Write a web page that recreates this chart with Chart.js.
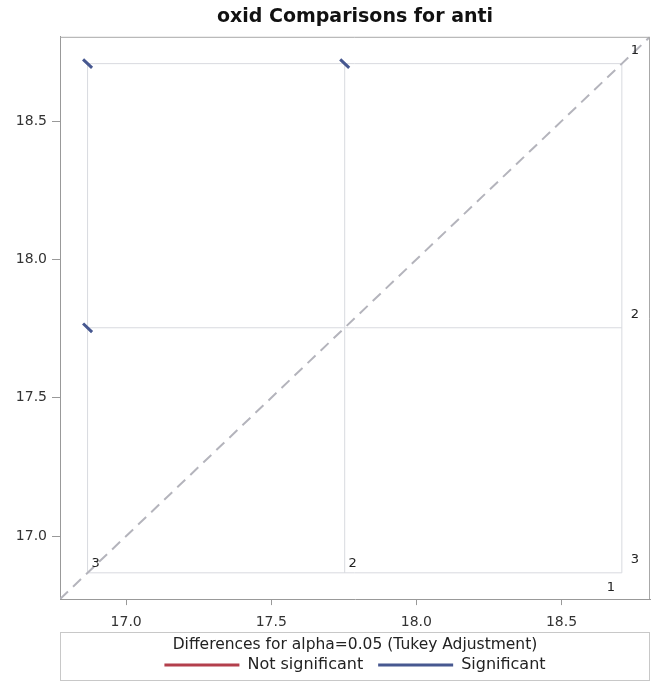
<!DOCTYPE html>
<html>
<head>
<meta charset="utf-8">
<script src="https://cdn.jsdelivr.net/npm/chart.js@4/dist/chart.umd.min.js"></script>
<style>
  html, body { margin: 0; padding: 0; background: #fff; }
  #wrap { width: 654px; height: 692px; }
</style>
</head>
<body>
<div id="wrap"><canvas id="diffChart"></canvas></div>
<script>
// LS-means of oxid for each level of anti
const groups = ['1', '2', '3'];
const lsMeans = [18.708, 17.753, 16.867];

// pairwise Tukey comparisons
const pairFirst = ['1', '1', '2'];
const pairSecond = ['2', '3', '3'];
const diffHalfWidth = [0.031, 0.031, 0.031];
const pairSignificant = [true, true, true];

const axisMin = 16.772;
const axisMax = 18.805;
const xTicks = [17.0, 17.5, 18.0, 18.5];
const yTicks = [17.0, 17.5, 18.0, 18.5];

const legendNames = ['Not significant', 'Significant'];
const colNotSig = '#b33f4c';
const colSig = '#475890';

const meanOf = g => lsMeans[groups.indexOf(g)];
const lo = Math.min(...lsMeans);
const hi = Math.max(...lsMeans);

// grid of reference lines through every mean
const refLines = [];
lsMeans.forEach(m => {
  refLines.push({ x: m, y: lo }, { x: m, y: hi }, { x: null, y: null });
  refLines.push({ x: lo, y: m }, { x: hi, y: m }, { x: null, y: null });
});

// one short -45 degree segment per comparison, centred on (lower mean, higher mean)
function segments(wantSig) {
  const pts = [];
  pairFirst.forEach((g, i) => {
    if (pairSignificant[i] !== wantSig) return;
    const a = meanOf(g), b = meanOf(pairSecond[i]);
    const cx = Math.min(a, b), cy = Math.max(a, b);
    const d = diffHalfWidth[i] / 2;
    pts.push({ x: cx - d, y: cy + d }, { x: cx + d, y: cy - d }, { x: null, y: null });
  });
  return pts;
}

const font = 'DejaVu Sans';

// group labels at the ends of the reference lines
const groupLabels = {
  id: 'groupLabels',
  afterDatasetsDraw(chart) {
    const { ctx, scales: { x, y } } = chart;
    ctx.save();
    ctx.font = '13px "' + font + '"';
    ctx.fillStyle = '#222';
    ctx.textAlign = 'center';
    ctx.textBaseline = 'middle';
    groups.forEach((g, i) => {
      const m = lsMeans[i];
      // right side, one per horizontal line
      ctx.fillText(g, x.getPixelForValue(hi) + 13, y.getPixelForValue(m) - 13);
      // bottom, one per vertical line (largest mean drops below to clear the right label)
      if (m === hi) {
        ctx.fillText(g, x.getPixelForValue(m) - 11, y.getPixelForValue(lo) + 15);
      } else {
        ctx.fillText(g, x.getPixelForValue(m) + 8, y.getPixelForValue(lo) - 9);
      }
    });
    ctx.restore();
  }
};

// frame round the plot and box round the legend
const frames = {
  id: 'frames',
  afterDraw(chart) {
    const { ctx, chartArea: a, legend } = chart;
    ctx.save();
    ctx.strokeStyle = '#a8a8a8';
    ctx.lineWidth = 1;
    ctx.beginPath();
    ctx.moveTo(a.left, a.top + 0.5);
    ctx.lineTo(a.right - 0.5, a.top + 0.5);
    ctx.lineTo(a.right - 0.5, a.bottom);
    ctx.stroke();
    ctx.strokeStyle = '#c8c8c8';
    const top = Math.round(legend.top + 2) + 0.5;
    const bottom = Math.round(legend.bottom - 3) + 0.5;
    ctx.strokeRect(a.left + 0.5, top, a.right - a.left - 1, bottom - top);
    ctx.restore();
  }
};

const ctx = document.getElementById('diffChart').getContext('2d');
new Chart(ctx, {
  type: 'scatter',
  data: {
    datasets: [
      {
        label: 'Significant',
        data: segments(true),
        showLine: true,
        borderColor: colSig,
        backgroundColor: colSig,
        borderWidth: 3,
        pointRadius: 0,
        order: 0
      },
      {
        label: 'Not significant',
        data: segments(false),
        showLine: true,
        borderColor: colNotSig,
        backgroundColor: colNotSig,
        borderWidth: 3,
        pointRadius: 0,
        order: 1
      },
      {
        label: 'diagonal',
        data: [{ x: axisMin, y: axisMin }, { x: axisMax, y: axisMax }],
        showLine: true,
        borderColor: '#b4b4bc',
        borderWidth: 2,
        borderDash: [11, 7],
        pointRadius: 0,
        order: 2
      },
      {
        label: 'reference',
        data: refLines,
        showLine: true,
        borderColor: '#d8dadf',
        borderWidth: 1,
        pointRadius: 0,
        order: 3
      }
    ]
  },
  options: {
    responsive: true,
    maintainAspectRatio: false,
    animation: false,
    layout: { padding: { top: 4, right: 4, bottom: 9, left: 0 } },
    plugins: {
      title: {
        display: true,
        text: 'oxid Comparisons for anti',
        fullSize: false,
        color: '#111',
        font: { family: font, size: 19, weight: 'bold' },
        padding: { top: 2, bottom: 8 }
      },
      legend: {
        position: 'bottom',
        fullSize: false,
        title: {
          display: true,
          text: 'Differences for alpha=0.05 (Tukey Adjustment)',
          color: '#222',
          // short line box so the items can keep wider spacing below it
          font: { family: font, size: 15.5, lineHeight: 0.3 },
          padding: { top: 7.25, bottom: 0 }
        },
        labels: {
          color: '#222',
          font: { family: font, size: 16 },
          boxWidth: 75,
          boxHeight: 3,
          padding: 15,
          generateLabels(chart) {
            return Chart.defaults.plugins.legend.labels.generateLabels(chart)
              .filter(item => legendNames.includes(item.text))
              .sort((p, q) => legendNames.indexOf(p.text) - legendNames.indexOf(q.text))
              .map(item => Object.assign(item, { lineWidth: 0 }));
          }
        }
      },
      tooltip: { enabled: false }
    },
    scales: {
      x: {
        min: axisMin,
        max: axisMax,
        afterBuildTicks: s => { s.ticks = xTicks.map(v => ({ value: v })); },
        afterFit: s => { s.height = 31; },
        border: { color: '#999' },
        grid: { drawOnChartArea: false, tickLength: 6, color: '#999' },
        ticks: {
          color: '#333',
          padding: 9,
          font: { family: font, size: 14 },
          callback: v => v.toFixed(1)
        }
      },
      y: {
        min: axisMin,
        max: axisMax,
        afterBuildTicks: s => { s.ticks = yTicks.map(v => ({ value: v })); },
        afterFit: s => { s.width = 60; },
        border: { color: '#999' },
        grid: { drawOnChartArea: false, tickLength: 8, color: '#999' },
        ticks: {
          color: '#333',
          padding: 5,
          font: { family: font, size: 14 },
          callback: v => v.toFixed(1)
        }
      }
    }
  },
  plugins: [groupLabels, frames]
});
</script>
</body>
</html>
